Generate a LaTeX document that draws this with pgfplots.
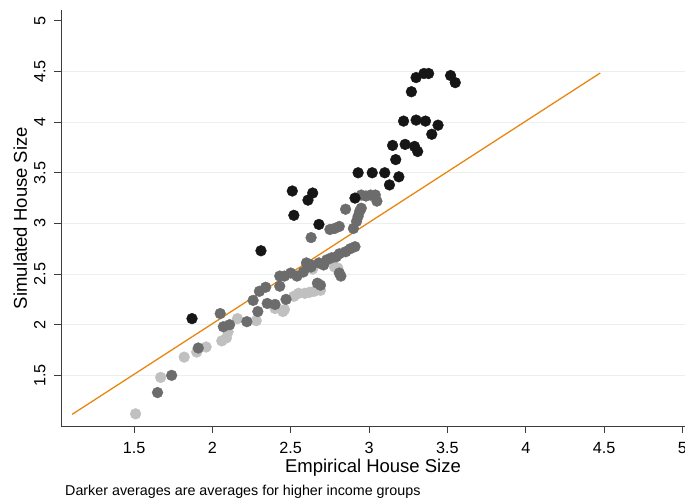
\documentclass[border=0pt]{standalone}
\usepackage{fontspec}
\setmainfont{Liberation Sans}
\usepackage{pgfplots}
\usepackage{pgfplotstable}
\pgfplotsset{compat=1.18}
\definecolor{gridc}{RGB}{232,240,241}
\definecolor{axc}{RGB}{60,60,60}
\definecolor{lineor}{RGB}{232,134,18}
\definecolor{cblack}{RGB}{22,22,22}
\definecolor{cdark}{RGB}{108,108,108}
\definecolor{clight}{RGB}{192,192,192}

\pgfplotstableread{
x y
1.51 1.12
1.67 1.48
1.82 1.68
1.90 1.73
1.96 1.78
2.06 1.84
2.09 1.87
2.10 1.93
2.16 2.06
2.28 2.04
2.40 2.16
2.45 2.13
2.46 2.15
2.52 2.28
2.55 2.31
2.59 2.31
2.62 2.32
2.65 2.33
2.69 2.34
2.64 2.55
2.78 2.57
2.80 2.56
}\lightdata

\pgfplotstableread{
x y
1.65 1.33
1.74 1.50
1.91 1.77
2.05 2.11
2.07 1.98
2.11 2.00
2.22 2.03
2.29 2.13
2.26 2.24
2.30 2.33
2.34 2.37
2.35 2.21
2.40 2.20
2.43 2.38
2.43 2.48
2.46 2.48
2.47 2.25
2.50 2.51
2.54 2.48
2.58 2.52
2.60 2.61
2.63 2.57
2.63 2.59
2.68 2.61
2.71 2.59
2.73 2.64
2.76 2.66
2.79 2.67
2.81 2.70
2.85 2.72
2.88 2.75
2.91 2.77
2.67 2.41
2.69 2.39
2.81 2.51
2.82 2.48
2.63 2.86
2.75 2.94
2.78 2.95
2.81 2.97
2.85 3.14
2.90 2.95
2.92 3.02
2.93 3.07
2.94 3.12
2.95 3.15
2.95 3.28
2.98 3.27
3.01 3.28
3.04 3.28
3.05 3.22
}\darkdata

\pgfplotstableread{
x y
1.87 2.06
2.31 2.73
2.51 3.32
2.52 3.08
2.61 3.23
2.64 3.30
2.68 2.99
2.91 3.25
2.93 3.50
3.02 3.50
3.10 3.50
3.13 3.38
3.19 3.46
3.17 3.63
3.15 3.77
3.23 3.78
3.29 3.76
3.31 3.71
3.22 4.01
3.30 4.02
3.36 4.01
3.44 3.97
3.40 3.88
3.27 4.30
3.30 4.44
3.35 4.48
3.38 4.48
3.52 4.46
3.55 4.39
}\blackdata

\begin{document}
\begin{tikzpicture}
\begin{axis}[
  at={(0,0)}, anchor=south west,
  scale only axis, width=624bp, height=416bp,
  xmin=1.034, xmax=5.016, ymin=1.0, ymax=5.107,
  axis x line*=bottom, axis y line*=left,
  x axis line style={-, draw=axc, line width=0.9bp},
  y axis line style={-, draw=axc, line width=0.9bp},
  xtick={1.5,2,2.5,3,3.5,4,4.5,5},
  ytick={1.5,2,2.5,3,3.5,4,4.5},
  extra y ticks={5},
  extra y tick style={grid=none},
  ymajorgrids, grid style={draw=gridc, line width=0.9bp},
  tick align=outside, major tick length=7bp,
  tick style={draw=axc, line width=0.9bp},
  /pgf/number format/assume math mode=true,
  tick label style={font=\fontsize{16.2bp}{17bp}\selectfont},
  xticklabel style={yshift=-6bp},
  yticklabel style={rotate=90, anchor=south, yshift=5bp},
  xlabel={Empirical House Size},
  ylabel={Simulated House Size},
  label style={font=\fontsize{18.5bp}{19bp}\selectfont},
  xlabel style={at={(axis description cs:0.5,0)}, anchor=base, yshift=-46bp},
  ylabel style={at={(axis description cs:0,0.5)}, anchor=base, yshift=34bp},
  clip=false,
]
\addplot[lineor, line width=1.3bp, no marks] coordinates {(1.105,1.115) (4.475,4.485)};
\addplot[only marks, mark=*, mark size=5.4bp, color=clight] table[x=x,y=y] {\lightdata};
\addplot[only marks, mark=*, mark size=5.4bp, color=cdark] table[x=x,y=y] {\darkdata};
\addplot[only marks, mark=*, mark size=5.4bp, color=cblack] table[x=x,y=y] {\blackdata};
\end{axis}
\node[anchor=base west, inner sep=0pt, font=\fontsize{14.3bp}{15bp}\selectfont] at (4bp,-69bp) {Darker averages are averages for higher income groups};
\pgfresetboundingbox
\path[use as bounding box] (-61bp,-74bp) rectangle (624bp,426bp);
\end{tikzpicture}
\end{document}
